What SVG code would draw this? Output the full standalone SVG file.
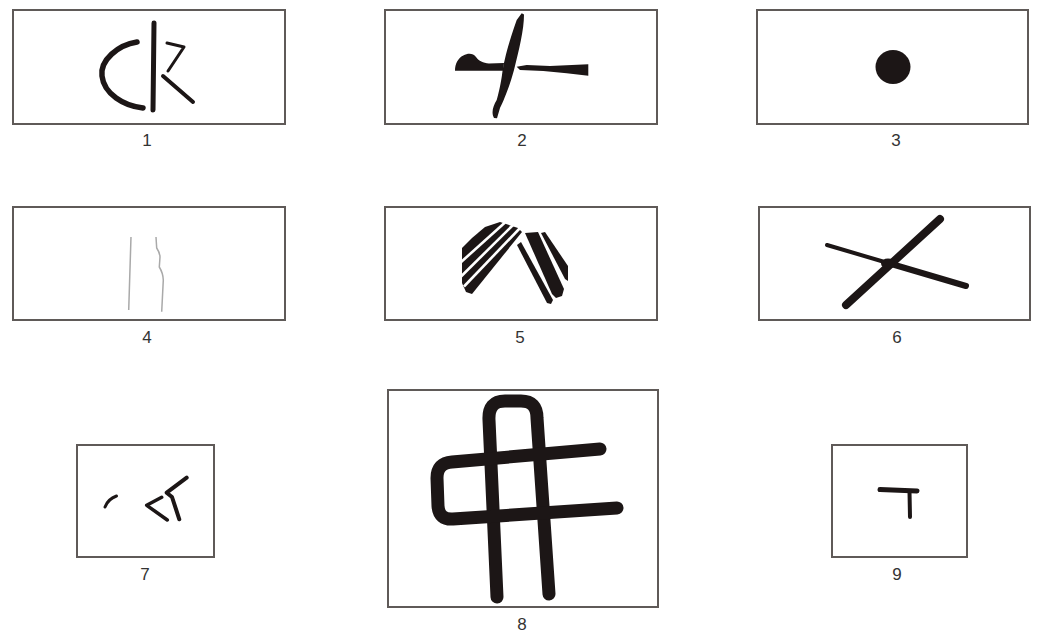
<svg xmlns="http://www.w3.org/2000/svg" width="1038" height="633" viewBox="0 0 1038 633">
<style>
.frame{fill:#fff;stroke:#5f5a58;stroke-width:2}
.lbl{font-family:"Liberation Sans",Arial,sans-serif;font-size:17px;fill:#333;text-anchor:middle}
.ink{fill:none;stroke:#1c1616;stroke-linecap:round;stroke-linejoin:round}
.fill{fill:#1c1616}
.gap{fill:none;stroke:#fff;stroke-width:2.6;stroke-linecap:butt}
</style>
<rect width="1038" height="633" fill="#fff"/>

<g id="panel1">
<rect class="frame" x="13" y="10" width="272" height="114"/>
<path class="ink" stroke-width="5.5" d="M137,42 C118,45 100,60 102,76 C104,94 124,106 143,108"/>
<path class="ink" stroke-width="5" d="M154,23 L153,110"/>
<path class="ink" stroke-width="3" d="M167,43 L184,47 L168,71"/>
<path class="ink" stroke-width="4" d="M163,76 L193,102"/>
<text class="lbl" x="147" y="146">1</text>
</g>

<g id="panel2">
<rect class="frame" x="385" y="10" width="272" height="114"/>
<path class="fill" d="M521.7,13.3 L524,14.5 C524,30 519,50 514,70 C510,85 504,100 500,108 L497,118.3 L494,118 C491,113 493,106 496.7,100 C499,92 501,82 502,75 C504,60 508,45 516.7,20 Z"/>
<path class="fill" d="M455,70.7 C455,64 458,58 463.3,55.5 C468,53 473,53 476,57 C479,61 483,63 489,63.5 L504,63 L503,70.7 Z"/>
<polygon class="fill" points="516.7,66.7 526.7,65 550,66 588.3,64.3 588.3,75.7 566.7,73.3 543.3,71 520,70"/>
<text class="lbl" x="522" y="146">2</text>
</g>

<g id="panel3">
<rect class="frame" x="757" y="10" width="271" height="114"/>
<ellipse class="fill" cx="893" cy="67" rx="17.5" ry="17"/>
<text class="lbl" x="896" y="146">3</text>
</g>

<g id="panel4">
<rect class="frame" x="13" y="207" width="272" height="113"/>
<path fill="none" stroke="#a9a9a9" stroke-width="1.5" d="M131,237 L128.7,310"/>
<path fill="none" stroke="#a9a9a9" stroke-width="1.5" d="M156,237 L156.7,248 Q160,253 160,257 L159.3,267 Q163,273 163.3,280 L161.7,311.7"/>
<text class="lbl" x="147" y="343">4</text>
</g>

<g id="panel5">
<rect class="frame" x="385" y="207" width="272" height="113"/>
<polygon class="fill" points="462,248 472,238 485,227 500,222 518,228 522,232 472,294 466,292 462,283"/>
<line class="gap" x1="460" y1="263" x2="505" y2="222.5"/>
<line class="gap" x1="461" y1="276.5" x2="513" y2="225"/>
<line class="gap" x1="464" y1="286.5" x2="520" y2="228"/>
<polygon class="fill" points="517,245 521,242 553,300 551,304 547,303"/>
<polygon class="fill" points="525,233 538,232 564,289 562,296 556,298 552,294"/>
<polygon class="fill" points="541,233 545,232 568,266 568,281 565,279"/>
<text class="lbl" x="520" y="343">5</text>
</g>

<g id="panel6">
<rect class="frame" x="759" y="207" width="271" height="113"/>
<path class="ink" stroke-width="8" d="M940,219 L846,305"/>
<path class="ink" stroke-width="4" d="M827,245 L888,263"/>
<path class="ink" stroke-width="6" d="M888,263 L966,286"/>
<ellipse class="fill" cx="888" cy="263.5" rx="7" ry="5"/>
<text class="lbl" x="897" y="343">6</text>
</g>

<g id="panel7">
<rect class="frame" x="77" y="445" width="137" height="112"/>
<path class="ink" stroke-width="3" d="M105,507 Q108,499 116.5,496"/>
<path class="ink" stroke-width="3.5" d="M161.7,497.3 L146.7,505.3 L167.3,520"/>
<path class="ink" stroke-width="4" d="M186.7,477.7 L166.7,492.7 L172,497 L179.3,519.3"/>
<text class="lbl" x="145" y="580">7</text>
</g>

<g id="panel8">
<rect class="frame" x="388" y="390" width="270" height="217"/>
<path class="ink" stroke-width="13" d="M497,597 L489,420 Q488,401 505,401 L521,401 Q537,401 537,418 L549,594"/>
<path class="ink" stroke-width="13" d="M600,449 L452,462 Q437,463 437,478 L438,506 Q439,520 453,519 L617,508"/>
<text class="lbl" x="522" y="630">8</text>
</g>

<g id="panel9">
<rect class="frame" x="832" y="445" width="135" height="112"/>
<path class="ink" stroke-width="5" d="M880,489.5 L917,491"/>
<path class="ink" stroke-width="4" d="M909.5,491.5 L910,517"/>
<text class="lbl" x="897" y="580">9</text>
</g>

<g id="connectors"></g>
</svg>
